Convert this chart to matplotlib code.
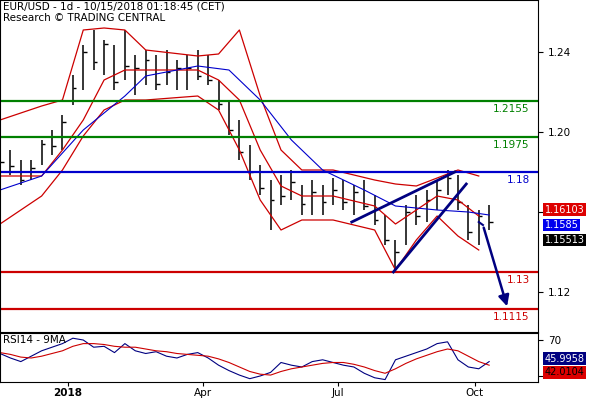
import numpy as np
import matplotlib
matplotlib.use("Agg")
import matplotlib.pyplot as plt

# weekly bars
highs = [1.1935, 1.191, 1.186, 1.186, 1.196, 1.201, 1.2085, 1.2285, 1.2435, 1.251, 1.246, 1.2435,
         1.251, 1.2385, 1.241, 1.2385, 1.241, 1.236, 1.2385, 1.241, 1.2385, 1.226, 1.216, 1.206,
         1.1935, 1.1835, 1.176, 1.1785, 1.181, 1.1735, 1.176, 1.1735, 1.177, 1.176, 1.1735, 1.176,
         1.1685, 1.1585, 1.146, 1.1635, 1.1685, 1.171, 1.176, 1.181, 1.1785, 1.1635, 1.161, 1.1635]
lows = [1.181, 1.1785, 1.1735, 1.176, 1.1835, 1.1885, 1.191, 1.2135, 1.221, 1.231, 1.2285, 1.221,
        1.226, 1.2185, 1.2235, 1.221, 1.2235, 1.221, 1.221, 1.226, 1.2235, 1.211, 1.1985, 1.186,
        1.176, 1.1685, 1.151, 1.1635, 1.166, 1.1585, 1.1585, 1.1585, 1.1635, 1.161, 1.1585, 1.161,
        1.1535, 1.1435, 1.130, 1.1435, 1.1535, 1.155, 1.161, 1.1685, 1.161, 1.146, 1.1435, 1.151]
closes = [1.185, 1.183, 1.176, 1.182, 1.194, 1.193, 1.205, 1.222, 1.240, 1.235, 1.244, 1.225,
          1.233, 1.232, 1.236, 1.224, 1.230, 1.232, 1.232, 1.228, 1.226, 1.214, 1.201, 1.190,
          1.180, 1.172, 1.166, 1.168, 1.175, 1.164, 1.170, 1.165, 1.171, 1.165, 1.170, 1.163,
          1.156, 1.146, 1.140, 1.160, 1.158, 1.166, 1.171, 1.177, 1.165, 1.150, 1.158, 1.155]

band_weeks = [0, 4, 6, 8, 10, 12, 14, 19, 21, 23, 25, 27, 29, 32, 36, 38, 40, 42, 44, 46]
upper = [1.206, 1.213, 1.216, 1.251, 1.252, 1.251, 1.241, 1.238, 1.239, 1.251, 1.218, 1.191,
         1.181, 1.181, 1.176, 1.174, 1.173, 1.177, 1.181, 1.178]
middle = [1.178, 1.178, 1.191, 1.206, 1.226, 1.231, 1.231, 1.231, 1.226, 1.216, 1.191, 1.173,
          1.168, 1.168, 1.163, 1.154, 1.161, 1.168, 1.166, 1.158]
lower = [1.154, 1.168, 1.181, 1.198, 1.211, 1.216, 1.216, 1.218, 1.211, 1.191, 1.166, 1.151,
         1.156, 1.156, 1.151, 1.131, 1.146, 1.158, 1.148, 1.141]
ma_weeks = [0, 4, 8, 12, 14, 19, 22, 25, 28, 31, 35, 38, 42, 45, 47]
ma = [1.171, 1.178, 1.201, 1.218, 1.228, 1.233, 1.231, 1.216, 1.196, 1.181, 1.171, 1.163, 1.161, 1.160, 1.1585]

rsi = [55, 50, 46, 52, 58, 62, 66, 72, 70, 62, 63, 56, 66, 58, 55, 57, 52, 50, 54, 56, 50, 42,
       36, 31, 27, 30, 34, 45, 42, 40, 46, 48, 45, 42, 40, 33, 28, 26, 48, 52, 56, 60, 66, 68,
       48, 40, 38, 46]
rsi_ma = [56, 54, 51, 50, 52, 55, 58, 63, 66, 66, 65, 63, 62, 62, 60, 58, 57, 55, 54, 53, 52, 49,
          45, 40, 35, 32, 31, 35, 38, 40, 42, 44, 45, 45, 43, 40, 36, 33, 38, 44, 49, 53, 57, 60,
          58, 52, 46, 42]

levels = [1.2155, 1.1975, 1.18, 1.13, 1.1115]
level_labels = ["1.2155", "1.1975", "1.18", "1.13", "1.1115"]
level_colors = ["#008000", "#008000", "#0000cc", "#cc0000", "#cc0000"]

fig = plt.figure(figsize=(5.9, 4.0), dpi=100)
ax = fig.add_axes([0, 0.17, 0.912, 0.83])
ax2 = fig.add_axes([0, 0.045, 0.912, 0.1225], sharex=ax)

weeks = np.arange(len(highs))
ax.vlines(weeks, lows, highs, color="black", lw=1.1)
ax.hlines(closes, weeks, weeks + 0.35, color="black", lw=1.0)
ax.plot(band_weeks, upper, color="#cc0000", lw=0.9)
ax.plot(band_weeks, middle, color="#cc0000", lw=0.9)
ax.plot(band_weeks, lower, color="#cc0000", lw=0.9)
ax.plot(ma_weeks, ma, color="#0000cc", lw=0.8)

for lv, lb, c in zip(levels, level_labels, level_colors):
    ax.axhline(lv, color=c, lw=1.6)
    ax.text(50.9, lv - 0.0015, lb, color=c, fontsize=7.5, ha="right", va="top")

# wedge and projected move
ax.plot([33.8, 43.7], [1.155, 1.180], color="#000080", lw=2)
ax.plot([37.8, 44.8], [1.130, 1.174], color="#000080", lw=2)
ax.plot([46, 46.4], [1.155, 1.1535], color="#000080", lw=1.5)
ax.annotate("", xy=(48.8, 1.1115), xytext=(46.4, 1.1535),
            arrowprops=dict(arrowstyle="-|>", color="#000080", lw=1.8, mutation_scale=16))

ax.set_ylim(1.100, 1.266)
ax.set_xlim(0, 51.7)
ax.yaxis.tick_right()
ax.set_yticks([1.12, 1.16, 1.20, 1.24])
ax.set_yticklabels(["1.12", "", "1.20", "1.24"], fontsize=7.5)
ax.tick_params(axis="x", bottom=False, labelbottom=False)
ax.text(0.005, 0.995, "EUR/USD - 1d - 10/15/2018 01:18:45 (CET)\nResearch \u00a9 TRADING CENTRAL",
        transform=ax.transAxes, fontsize=7.5, va="top", linespacing=1.2)

for val, txt, fc in [(1.16103, "1.16103", "#dd0000"), (1.1535, "1.1585", "#0000ee"), (1.146, "1.15513", "black")]:
    ax.text(1.012, val, txt, transform=ax.get_yaxis_transform(), fontsize=7, color="white",
            va="center", bbox=dict(boxstyle="square,pad=0.15", fc=fc, ec="none"))

ax2.plot(weeks, rsi, color="#000080", lw=0.8)
ax2.plot(weeks, rsi_ma, color="#cc0000", lw=0.8)
ax2.set_ylim(23.3, 77.8)
ax2.yaxis.tick_right()
ax2.set_yticks([30, 70])
ax2.set_yticklabels(["", "70"], fontsize=7.5)
ax2.text(0.005, 0.95, "RSI14 - 9MA", transform=ax2.transAxes, fontsize=7.5, va="top")
ax2.text(1.012, 49, "45.9958", transform=ax2.get_yaxis_transform(), fontsize=7, color="white",
         va="center", bbox=dict(boxstyle="square,pad=0.15", fc="#000080", ec="none"))
ax2.text(1.012, 34, "42.0104", transform=ax2.get_yaxis_transform(), fontsize=7, color="black",
         va="center", bbox=dict(boxstyle="square,pad=0.15", fc="#dd0000", ec="none"))

ax2.set_xticks([6.5, 19.5, 32.5, 45.6])
ax2.set_xticklabels(["2018", "Apr", "Jul", "Oct"], fontsize=7.5)
ax2.get_xticklabels()[0].set_fontweight("bold")
ax2.tick_params(axis="x", length=3, pad=1)

fig.savefig("out.png", dpi=100)
